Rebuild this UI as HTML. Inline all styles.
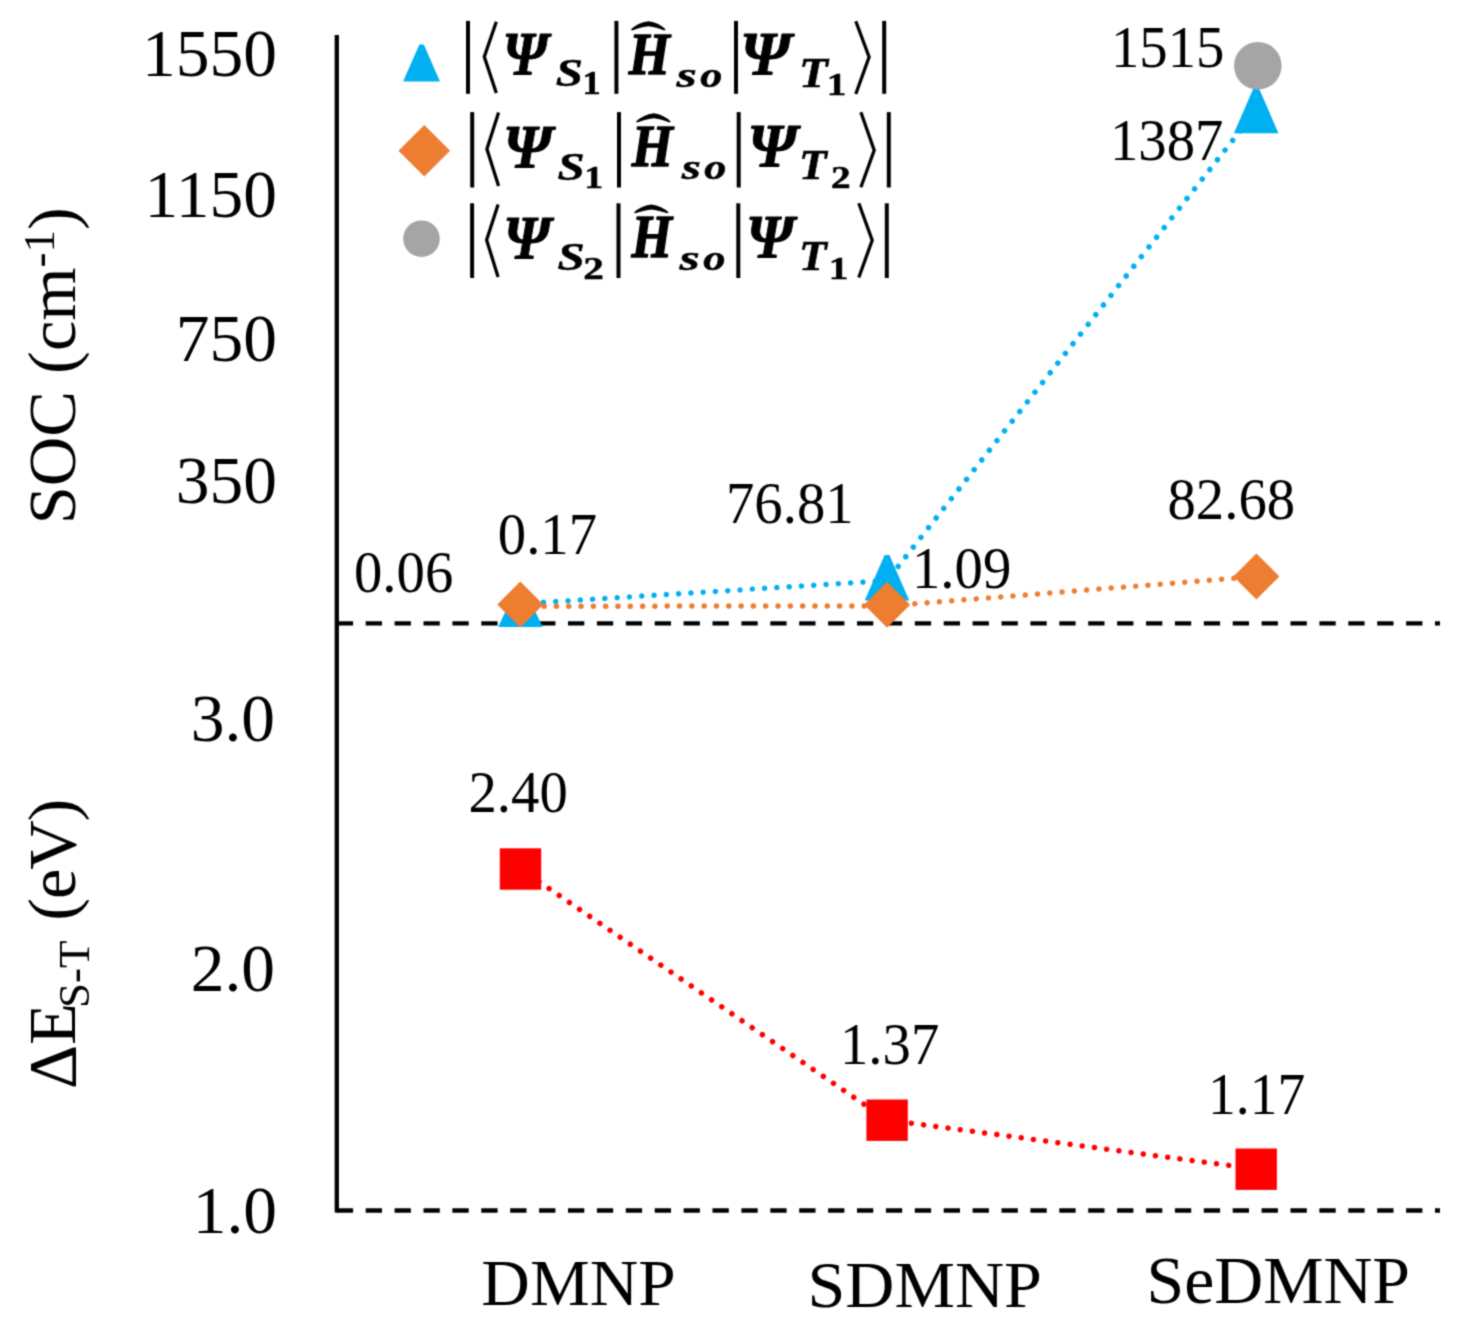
<!DOCTYPE html>
<html><head><meta charset="utf-8">
<style>
html,body{margin:0;padding:0;background:#fff;}
body{width:1462px;height:1344px;overflow:hidden;}
svg{display:block;}
text{font-family:"Liberation Serif",serif;fill:#000;}
</style></head>
<body>
<svg width="1462" height="1344" viewBox="0 0 1462 1344">
<defs><filter id="bl" x="0" y="0" width="1462" height="1344" filterUnits="userSpaceOnUse" color-interpolation-filters="sRGB"><feConvolveMatrix order="3" kernelMatrix="0.036 0.118 0.036 0.118 0.384 0.118 0.036 0.118 0.036" divisor="1" edgeMode="duplicate" preserveAlpha="true"/></filter></defs>
<g filter="url(#bl)">
<rect width="1462" height="1344" fill="#fff"/>
<g id="chart">
<line x1="336.8" y1="35" x2="336.8" y2="1212.6" stroke="#000" stroke-width="4.3"/>
<line x1="336.8" y1="623.3" x2="1440" y2="623.3" stroke="#000" stroke-width="4.3" stroke-dasharray="16.3 12.6"/>
<line x1="336.8" y1="1210.5" x2="1440" y2="1210.5" stroke="#000" stroke-width="4.3" stroke-dasharray="16.3 12.6"/>
<text font-size="68.5" text-anchor="end" transform="translate(277,76) scale(0.985,1)">1550</text>
<text font-size="68.5" text-anchor="end" transform="translate(277,217) scale(0.985,1)">1150</text>
<text font-size="68.5" text-anchor="end" transform="translate(277,361.2) scale(0.985,1)">750</text>
<text font-size="68.5" text-anchor="end" transform="translate(277,503.4) scale(0.985,1)">350</text>
<text font-size="68.5" text-anchor="end" transform="translate(275,741) scale(0.985,1)">3.0</text>
<text font-size="68.5" text-anchor="end" transform="translate(275,990.5) scale(0.985,1)">2.0</text>
<text font-size="68.5" text-anchor="end" transform="translate(277,1233.3) scale(0.985,1)">1.0</text>
<text transform="translate(74.5,524.3) rotate(-90)" font-size="68.5">SOC (cm<tspan font-size="45" dy="-20.5">-1</tspan><tspan dy="20.5">)</tspan></text>
<text transform="translate(75.4,1089) rotate(-90)" font-size="68.5">ΔE<tspan font-size="45" dy="14" dx="-5">S-T</tspan><tspan dy="-14" dx="4" letter-spacing="-1.2"> (eV)</tspan></text>
<text font-size="65" text-anchor="middle" transform="translate(578.5,1304.6) scale(1.035,1)">DMNP</text>
<text font-size="65" text-anchor="middle" transform="translate(924.7,1306.6) scale(1.047,1)">SDMNP</text>
<text font-size="68.3" text-anchor="middle" transform="translate(1278.3,1303.2) scale(0.992,1)">SeDMNP</text>
<g fill="none" stroke-width="5.5" stroke-linecap="round" stroke-dasharray="0.01 12.3">
<line x1="520.3" y1="603.8" x2="887" y2="580.6" stroke="#00B0F0" stroke-dashoffset="1.4"/>
<line x1="887" y1="580.6" x2="1256.5" y2="110" stroke="#00B0F0" stroke-dashoffset="-5.7"/>
<line x1="520.3" y1="606.2" x2="887" y2="606" stroke="#ED7D31" stroke-dashoffset="0.8"/>
<line x1="887" y1="606" x2="1256.4" y2="576.5" stroke="#ED7D31" stroke-dashoffset="-3.3"/>
<line x1="520.5" y1="869" x2="887" y2="1120" stroke="#FF0000" stroke-dashoffset="2.3"/>
<line x1="887" y1="1120" x2="1256" y2="1169" stroke="#FF0000" stroke-dashoffset="0"/>
</g>
<polygon points="519.0,583.3 521.8,583.3 542.6999999999999,626.9 498.09999999999997,626.9" fill="#00B0F0"/>
<polygon points="884.6,554.9 889.4,554.9 909.3,600.6 864.7,600.6" fill="#00B0F0"/>
<polygon points="1253.8,87.49999999999999 1258.6000000000001,87.49999999999999 1278.5,133.2 1233.9,133.2" fill="#00B0F0"/>
<polygon points="520.3,581.5 543.3,604.5 520.3,627.5 497.29999999999995,604.5" fill="#ED7D31"/>
<polygon points="887.1,581.7 910.1,604.7 887.1,627.7 864.1,604.7" fill="#ED7D31"/>
<polygon points="1256.4,553.4 1279.4,576.4 1256.4,599.4 1233.4,576.4" fill="#ED7D31"/>
<circle cx="1257.8" cy="65.8" r="23.8" fill="#A5A5A5"/>
<rect x="499.8" y="848.3" width="41.4" height="41.4" fill="#FF0000"/>
<rect x="866.4" y="1099.5" width="41.4" height="41.4" fill="#FF0000"/>
<rect x="1235.5" y="1148.5" width="41.4" height="41.4" fill="#FF0000"/>
<text font-size="58.5" transform="translate(354,591.5) scale(0.97,1)">0.06</text>
<text font-size="58.5" transform="translate(497.8,553.5) scale(0.97,1)">0.17</text>
<text font-size="58.5" transform="translate(726,523) scale(0.97,1)">76.81</text>
<text font-size="58.5" transform="translate(912,588) scale(0.97,1)">1.09</text>
<text font-size="58.5" transform="translate(1167.5,519) scale(0.97,1)">82.68</text>
<text font-size="58.5" transform="translate(1111,67.3) scale(0.97,1)">1515</text>
<text font-size="58.5" transform="translate(1110,159.7) scale(0.97,1)">1387</text>
<text font-size="58.5" transform="translate(468.5,812) scale(0.97,1)">2.40</text>
<text font-size="58.5" transform="translate(840,1063.7) scale(0.97,1)">1.37</text>
<text font-size="58.5" transform="translate(1208,1113.8) scale(0.95,1)">1.17</text>
</g>
<g id="legend">
<polygon points="419.4,44.6 423.8,44.6 440.0,81.5 403.1,81.5" fill="#00B0F0"/>
<line x1="468" y1="20.9" x2="468" y2="93.8" stroke="#000" stroke-width="4.0"/>
<polyline points="496.3,21.8 484.3,56.8 496.3,92.9" fill="none" stroke="#000" stroke-width="3.3" stroke-linejoin="miter"/>
<text style="font-weight:bold;font-style:italic" font-size="100" transform="matrix(0.5680,0,0,0.6046,502.50,73.95)" stroke="#000" stroke-width="0.9" vector-effect="non-scaling-stroke" stroke-linejoin="round">Ψ</text>
<text style="font-weight:bold;font-style:italic" font-size="100" transform="matrix(0.4884,0,0,0.4089,555.75,86.49)" stroke="#000" stroke-width="0.6" vector-effect="non-scaling-stroke" stroke-linejoin="round">S</text>
<text style="font-weight:bold" font-size="100" transform="matrix(0.3646,0,0,0.3273,582.38,94.40)" stroke="#000" stroke-width="0.6" vector-effect="non-scaling-stroke" stroke-linejoin="round">1</text>
<line x1="616.4" y1="20.9" x2="616.4" y2="93.8" stroke="#000" stroke-width="4.0"/>
<path d="M630.8,29.599999999999998 Q637.65,22.7 648.5,21.2 Q659.1,22.7 665.7,29.599999999999998 L664.3000000000001,30.4 Q658.1,27.7 648.5,26.2 Q638.65,27.7 632.1999999999999,30.4 Z" fill="#000"/>
<text style="font-weight:bold;font-style:italic" font-size="100" transform="matrix(0.5284,0,0,0.5939,628.75,73.85)" stroke="#000" stroke-width="1.3" vector-effect="non-scaling-stroke" stroke-linejoin="round">H</text>
<text style="font-weight:bold;font-style:italic" font-size="100" transform="matrix(0.5214,0,0,0.3625,676.46,86.54)" stroke="#000" stroke-width="0.6" vector-effect="non-scaling-stroke" stroke-linejoin="round">s</text>
<text style="font-weight:bold;font-style:italic" font-size="100" transform="matrix(0.4422,0,0,0.3625,700.14,86.54)" stroke="#000" stroke-width="0.6" vector-effect="non-scaling-stroke" stroke-linejoin="round">o</text>
<line x1="736" y1="20.9" x2="736" y2="93.8" stroke="#000" stroke-width="4.0"/>
<text style="font-weight:bold;font-style:italic" font-size="100" transform="matrix(0.6332,0,0,0.6092,740.09,74.05)" stroke="#000" stroke-width="0.9" vector-effect="non-scaling-stroke" stroke-linejoin="round">Ψ</text>
<text style="font-weight:bold;font-style:italic" font-size="100" transform="matrix(0.4702,0,0,0.4168,798.99,86.70)" stroke="#000" stroke-width="0.6" vector-effect="non-scaling-stroke" stroke-linejoin="round">T</text>
<text style="font-weight:bold" font-size="100" transform="matrix(0.3918,0,0,0.3061,826.67,94.70)" stroke="#000" stroke-width="0.6" vector-effect="non-scaling-stroke" stroke-linejoin="round">1</text>
<polyline points="855.8,21.2 869.1,57 855.8,94" fill="none" stroke="#000" stroke-width="3.3" stroke-linejoin="miter"/>
<line x1="884.2" y1="20.9" x2="884.2" y2="93.8" stroke="#000" stroke-width="4.0"/>
<polygon points="424.3,124.9 450.1,150.7 424.3,176.5 398.5,150.7" fill="#ED7D31"/>
<line x1="472.2" y1="112.1" x2="472.2" y2="187.5" stroke="#000" stroke-width="4.0"/>
<polyline points="498.59999999999997,112.6 486.90000000000003,149 498.59999999999997,186" fill="none" stroke="#000" stroke-width="3.3" stroke-linejoin="miter"/>
<text style="font-weight:bold;font-style:italic" font-size="100" transform="matrix(0.6132,0,0,0.6137,503.12,167.15)" stroke="#000" stroke-width="0.9" vector-effect="non-scaling-stroke" stroke-linejoin="round">Ψ</text>
<text style="font-weight:bold;font-style:italic" font-size="100" transform="matrix(0.4884,0,0,0.4074,557.55,179.59)" stroke="#000" stroke-width="0.6" vector-effect="non-scaling-stroke" stroke-linejoin="round">S</text>
<text style="font-weight:bold" font-size="100" transform="matrix(0.3782,0,0,0.3167,584.27,187.90)" stroke="#000" stroke-width="0.6" vector-effect="non-scaling-stroke" stroke-linejoin="round">1</text>
<line x1="619" y1="112.1" x2="619" y2="187.5" stroke="#000" stroke-width="4.0"/>
<path d="M635.9,121.8 Q642.8499999999999,114.8 653.8,113.3 Q664.3,114.8 670.8,121.8 L669.4,122.6 Q663.3,119.8 653.8,118.3 Q643.8499999999999,119.8 637.3,122.6 Z" fill="#000"/>
<text style="font-weight:bold;font-style:italic" font-size="100" transform="matrix(0.5284,0,0,0.5954,631.85,166.15)" stroke="#000" stroke-width="1.3" vector-effect="non-scaling-stroke" stroke-linejoin="round">H</text>
<text style="font-weight:bold;font-style:italic" font-size="100" transform="matrix(0.4910,0,0,0.3625,681.65,178.74)" stroke="#000" stroke-width="0.6" vector-effect="non-scaling-stroke" stroke-linejoin="round">s</text>
<text style="font-weight:bold;font-style:italic" font-size="100" transform="matrix(0.4422,0,0,0.3625,704.34,178.74)" stroke="#000" stroke-width="0.6" vector-effect="non-scaling-stroke" stroke-linejoin="round">o</text>
<line x1="738.7" y1="112.1" x2="738.7" y2="187.5" stroke="#000" stroke-width="4.0"/>
<text style="font-weight:bold;font-style:italic" font-size="100" transform="matrix(0.6194,0,0,0.6107,747.38,166.35)" stroke="#000" stroke-width="0.9" vector-effect="non-scaling-stroke" stroke-linejoin="round">Ψ</text>
<text style="font-weight:bold;font-style:italic" font-size="100" transform="matrix(0.4526,0,0,0.4168,799.12,178.90)" stroke="#000" stroke-width="0.6" vector-effect="non-scaling-stroke" stroke-linejoin="round">T</text>
<text style="font-weight:bold" font-size="100" transform="matrix(0.3928,0,0,0.3185,831.03,187.90)" stroke="#000" stroke-width="0.6" vector-effect="non-scaling-stroke" stroke-linejoin="round">2</text>
<polyline points="860.9,112.3 874.2,150.3 860.9,187.2" fill="none" stroke="#000" stroke-width="3.3" stroke-linejoin="miter"/>
<line x1="888.8" y1="112.1" x2="888.8" y2="187.5" stroke="#000" stroke-width="4.0"/>
<circle cx="421.5" cy="238.7" r="18.3" fill="#A5A5A5"/>
<line x1="472.1" y1="203.3" x2="472.1" y2="278" stroke="#000" stroke-width="4.0"/>
<polyline points="498.09999999999997,204.5 486.6,240 498.09999999999997,277" fill="none" stroke="#000" stroke-width="3.3" stroke-linejoin="miter"/>
<text style="font-weight:bold;font-style:italic" font-size="100" transform="matrix(0.5906,0,0,0.6168,503.26,257.85)" stroke="#000" stroke-width="0.9" vector-effect="non-scaling-stroke" stroke-linejoin="round">Ψ</text>
<text style="font-weight:bold;font-style:italic" font-size="100" transform="matrix(0.4884,0,0,0.4074,557.55,269.79)" stroke="#000" stroke-width="0.6" vector-effect="non-scaling-stroke" stroke-linejoin="round">S</text>
<text style="font-weight:bold" font-size="100" transform="matrix(0.4120,0,0,0.3170,583.35,278.60)" stroke="#000" stroke-width="0.6" vector-effect="non-scaling-stroke" stroke-linejoin="round">2</text>
<line x1="618.5" y1="203.3" x2="618.5" y2="278" stroke="#000" stroke-width="4.0"/>
<path d="M633.9,212.39999999999998 Q640.5999999999999,205.9 651.3,204.4 Q662.0,205.9 668.7,212.39999999999998 L667.3000000000001,213.2 Q661.0,210.9 651.3,209.4 Q641.5999999999999,210.9 635.3,213.2 Z" fill="#000"/>
<text style="font-weight:bold;font-style:italic" font-size="100" transform="matrix(0.5210,0,0,0.6031,631.44,257.05)" stroke="#000" stroke-width="1.3" vector-effect="non-scaling-stroke" stroke-linejoin="round">H</text>
<text style="font-weight:bold;font-style:italic" font-size="100" transform="matrix(0.5214,0,0,0.3625,679.56,269.74)" stroke="#000" stroke-width="0.6" vector-effect="non-scaling-stroke" stroke-linejoin="round">s</text>
<text style="font-weight:bold;font-style:italic" font-size="100" transform="matrix(0.4444,0,0,0.3625,703.23,269.74)" stroke="#000" stroke-width="0.6" vector-effect="non-scaling-stroke" stroke-linejoin="round">o</text>
<line x1="738.3" y1="203.3" x2="738.3" y2="278" stroke="#000" stroke-width="4.0"/>
<text style="font-weight:bold;font-style:italic" font-size="100" transform="matrix(0.5981,0,0,0.6153,746.11,257.25)" stroke="#000" stroke-width="0.9" vector-effect="non-scaling-stroke" stroke-linejoin="round">Ψ</text>
<text style="font-weight:bold;font-style:italic" font-size="100" transform="matrix(0.4526,0,0,0.4214,799.12,269.70)" stroke="#000" stroke-width="0.6" vector-effect="non-scaling-stroke" stroke-linejoin="round">T</text>
<text style="font-weight:bold" font-size="100" transform="matrix(0.3918,0,0,0.3182,828.67,279.00)" stroke="#000" stroke-width="0.6" vector-effect="non-scaling-stroke" stroke-linejoin="round">1</text>
<polyline points="858.8,203.3 872.2,240.3 858.8,277.5" fill="none" stroke="#000" stroke-width="3.3" stroke-linejoin="miter"/>
<line x1="886.8" y1="203.3" x2="886.8" y2="278" stroke="#000" stroke-width="4.0"/>
</g>
</g>
</svg>
</body></html>
